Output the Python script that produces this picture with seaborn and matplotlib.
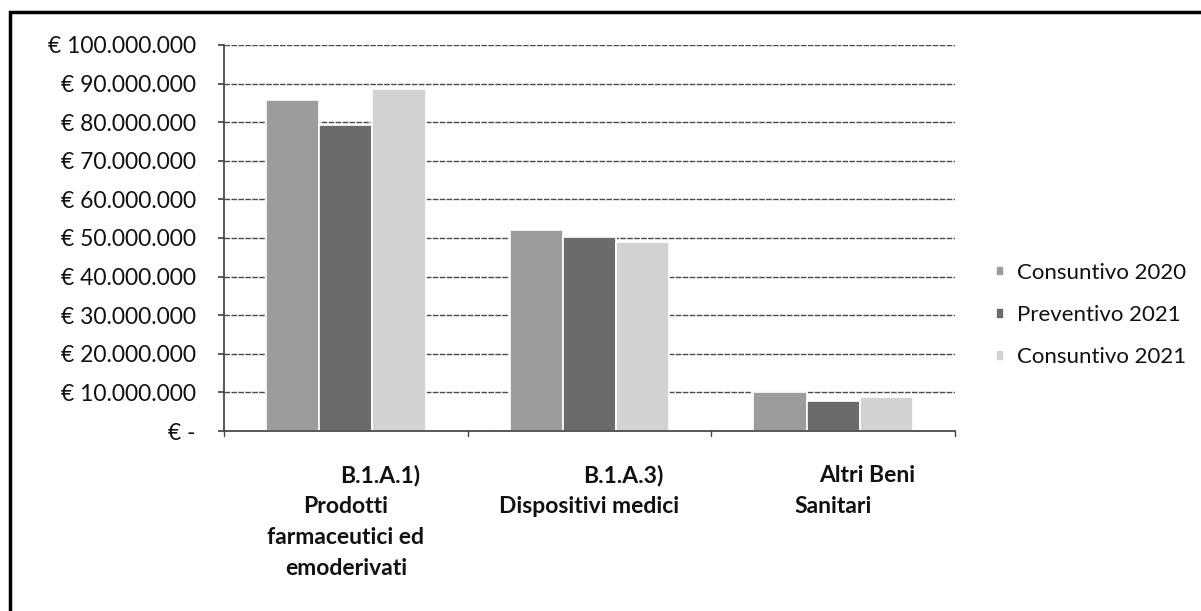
import matplotlib
matplotlib.use("Agg")
import matplotlib.pyplot as plt
import matplotlib.transforms as mtransforms
import seaborn as sns
import pandas as pd
from matplotlib.patches import Rectangle
from matplotlib.ticker import FuncFormatter

categories = ["B.1.A.1) Prodotti farmaceutici ed emoderivati",
              "B.1.A.3) Dispositivi medici",
              "Altri Beni Sanitari"]
category_lines = [["B.1.A.1)", "Prodotti", "farmaceutici ed", "emoderivati"],
                  ["B.1.A.3)", "Dispositivi medici"],
                  ["Altri Beni", "Sanitari"]]
series = ["Consuntivo 2020", "Preventivo 2021", "Consuntivo 2021"]
consuntivo_2020 = [85.7e6, 52.1e6, 10.1e6]
preventivo_2021 = [79.3e6, 50.3e6, 7.7e6]
consuntivo_2021 = [88.6e6, 49.0e6, 8.7e6]
colors = ["#9c9c9c", "#6b6b6b", "#d2d2d2"]

rows = []
for s, vals in zip(series, [consuntivo_2020, preventivo_2021, consuntivo_2021]):
    for c, v in zip(categories, vals):
        rows.append({"cat": c, "serie": s, "val": v})
df = pd.DataFrame(rows)

sns.set_theme(style="white")
plt.rcParams["font.family"] = ["Lato", "DejaVu Sans"]

W, H = 1201, 611
fig = plt.figure(figsize=(W / 100, H / 100), dpi=100)
ax = fig.add_axes([224 / W, 1 - 431 / H, (955 - 224) / W, (431 - 45) / H])

sns.barplot(data=df, x="cat", y="val", hue="serie", palette=colors,
            order=categories, hue_order=series, ax=ax, width=0.655,
            saturation=1, edgecolor="white", linewidth=1.2, legend=True)

ax.set_ylim(0, 100e6)
ax.set_xlim(-0.5, 2.5)
ax.set_yticks([i * 10e6 for i in range(11)])

def fmt(v, pos):
    if v == 0:
        return "€ -"
    return "€ " + f"{int(round(v)):,}".replace(",", ".")
ax.yaxis.set_major_formatter(FuncFormatter(fmt))
ax.set_xlabel("")
ax.set_ylabel("")
ax.yaxis.grid(True, color="#4a4a4a", linewidth=1.0, linestyle=(0, (4, 1)))
ax.set_axisbelow(True)
for sp in ["top", "right"]:
    ax.spines[sp].set_visible(False)
ax.spines["left"].set_color("#444444")
ax.spines["bottom"].set_color("#444444")
ax.tick_params(axis="y", which="major", left=True, length=4.3, color="#444444",
               labelsize=16.5, pad=16, labelcolor="#111111")
ax.set_xticks([0, 1, 2])
ax.set_xticklabels(["", "", ""])
ax.tick_params(axis="x", bottom=False)
for xb in [-0.5, 0.5, 1.5, 2.5]:
    ax.plot([xb, xb], [0, -1.3e6], color="#444444", lw=1, clip_on=False)

# multi-line category labels (first line shifted right, as in the original)
base = mtransforms.blended_transform_factory(ax.transData, ax.transAxes)
for i, lines in enumerate(category_lines):
    for j, line in enumerate(lines):
        dx = 34 if j == 0 else 0
        dy = -(34 + 31 * j)
        tr = mtransforms.offset_copy(base, fig=fig, x=dx, y=dy, units="dots")
        ax.text(i, 0, line, transform=tr, ha="center", va="top",
                fontsize=16.5, fontweight="bold", color="#111111")

leg = ax.legend(loc="center left", bbox_to_anchor=(1.056, 0.30), frameon=False,
                fontsize=16, handlelength=0.38, handleheight=0.38,
                handletextpad=0.55, labelspacing=1.0, borderpad=0,
                borderaxespad=0)
for t in leg.get_texts():
    t.set_color("#111111")

fig.patches.append(Rectangle((10 / W, -0.1), 1.2, 1.1 - 12 / H,
                             transform=fig.transFigure, fill=False,
                             edgecolor="black", linewidth=2.5))

fig.savefig("out.png", dpi=100, facecolor="white")
